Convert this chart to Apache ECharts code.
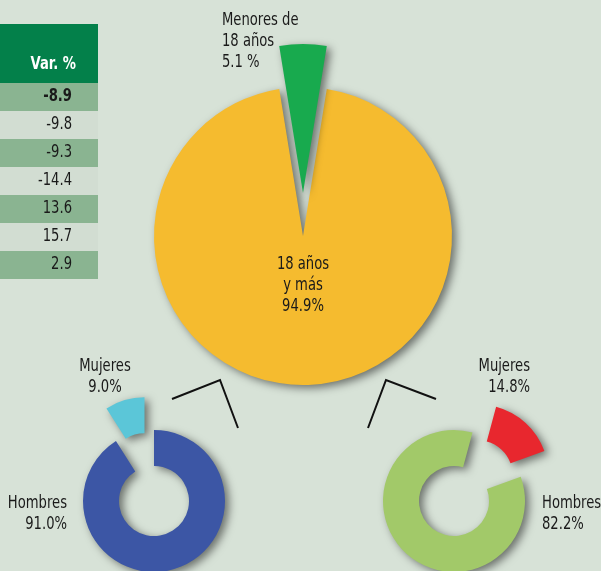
<!DOCTYPE html>
<html>
<head>
<meta charset="utf-8">
<script src="https://cdn.jsdelivr.net/npm/echarts@6/dist/echarts.min.js"></script>
<style>
  html, body { margin: 0; padding: 0; background: #d7e2d7; }
  #chart { width: 601px; height: 571px; }
</style>
</head>
<body>
<div id="chart"></div>
<script>
// datos: edad
var edadCats = ['18 años\ny más', 'Menores de\n18 años'];
var edadVals = [94.9, 5.1];
// menores por sexo
var menoresCats = ['Hombres', 'Mujeres'];
var menoresVals = [91.0, 9.0];
// adultos por sexo
var adultosCats = ['Hombres', 'Mujeres'];
var adultosVals = [82.2, 14.8];
// tabla (recortada) Var. %
var tablaHeader = 'Var. %';
var tablaVar = [-8.9, -9.8, -9.3, -14.4, 13.6, 15.7, 2.9];

var FONT = '"Liberation Sans Narrow", "DejaVu Sans Condensed", "Noto Sans", sans-serif';
var shadow = {
  shadowBlur: 8,
  shadowColor: 'rgba(0,0,0,0.5)',
  shadowOffsetX: 4,
  shadowOffsetY: 3
};

function st(color) {
  return Object.assign({ color: color }, shadow);
}

function txt(x, y, text, align, opts) {
  return {
    type: 'text',
    x: x,
    y: y,
    z: 100,
    scaleX: 0.86,
    silent: true,
    style: Object.assign({
      text: text,
      font: '17px ' + FONT,
      fill: '#1a1a1a',
      align: align || 'left',
      verticalAlign: 'middle',
      lineHeight: 21
    }, opts || {})
  };
}

// tabla a la izquierda
var graphics = [];
graphics.push({ type: 'rect', shape: { x: 0, y: 24, width: 98, height: 59 }, style: { fill: '#03804a' }, silent: true });
graphics.push(txt(76, 65, tablaHeader, 'right', { fill: '#ffffff', font: 'bold 17px ' + FONT }));
tablaVar.forEach(function (v, i) {
  var y0 = 83 + i * 28;
  graphics.push({
    type: 'rect',
    shape: { x: 0, y: y0, width: 98, height: 28 },
    style: { fill: i % 2 === 0 ? '#8ab491' : '#d2ddd2' },
    silent: true
  });
  graphics.push(txt(72, y0 + 14, v.toFixed(1), 'right', i === 0 ? { font: 'bold 17px ' + FONT } : {}));
});

// lineas de conexion
graphics.push({ type: 'polyline', shape: { points: [[172, 399], [220, 380], [238, 428]] }, style: { stroke: '#111', lineWidth: 2, fill: null }, silent: true });
graphics.push({ type: 'polyline', shape: { points: [[368, 428], [386, 380], [436, 399]] }, style: { stroke: '#111', lineWidth: 2, fill: null }, silent: true });

// etiquetas
graphics.push(txt(222, 42, edadCats[1] + '\n' + edadVals[1].toFixed(1) + ' %', 'left'));
graphics.push(txt(303, 286, edadCats[0] + '\n' + edadVals[0].toFixed(1) + '%', 'center'));
graphics.push(txt(105, 377, menoresCats[1] + '\n' + menoresVals[1].toFixed(1) + '%', 'center'));
graphics.push(txt(67, 514, menoresCats[0] + '\n' + menoresVals[0].toFixed(1) + '%', 'right'));
graphics.push(txt(530, 377, adultosCats[1] + '\n' + adultosVals[1].toFixed(1) + '%', 'right'));
graphics.push(txt(542, 514, adultosCats[0] + '\n' + adultosVals[0].toFixed(1) + '%', 'left'));

var chart = echarts.init(document.getElementById('chart'));

var option = {
  backgroundColor: '#d7e2d7',
  animation: false,
  series: [
    {
      type: 'pie',
      center: [303, 236],
      radius: 149,
      // menores centrado arriba
      startAngle: 90 - edadVals[1] * 3.6 / 2,
      clockwise: true,
      selectedMode: 'single',
      selectedOffset: 43,
      label: { show: false },
      labelLine: { show: false },
      emphasis: { disabled: true },
      silent: true,
      data: [
        { name: edadCats[0], value: edadVals[0], itemStyle: st('#f5bb2f') },
        { name: edadCats[1], value: edadVals[1], selected: true, itemStyle: st('#18aa4e'), select: { itemStyle: st('#18aa4e') } }
      ]
    },
    {
      type: 'pie',
      center: [154, 501],
      radius: [35, 71],
      startAngle: 90,
      clockwise: true,
      selectedMode: 'single',
      selectedOffset: 34,
      label: { show: false },
      labelLine: { show: false },
      emphasis: { disabled: true },
      silent: true,
      data: [
        { name: menoresCats[0], value: menoresVals[0], itemStyle: st('#3c56a5') },
        { name: menoresCats[1], value: menoresVals[1], selected: true, itemStyle: st('#5bc6d8'), select: { itemStyle: st('#5bc6d8') } }
      ]
    },
    {
      type: 'pie',
      center: [454, 501],
      radius: [35, 71],
      startAngle: 20,
      clockwise: true,
      selectedMode: 'single',
      selectedOffset: 35,
      label: { show: false },
      labelLine: { show: false },
      emphasis: { disabled: true },
      silent: true,
      data: [
        { name: adultosCats[0], value: adultosVals[0], itemStyle: st('#a2c969') },
        { name: adultosCats[1], value: adultosVals[1], selected: true, itemStyle: st('#e8272e'), select: { itemStyle: st('#e8272e') } }
      ]
    }
  ],
  graphic: graphics
};

chart.setOption(option);
</script>
</body>
</html>
